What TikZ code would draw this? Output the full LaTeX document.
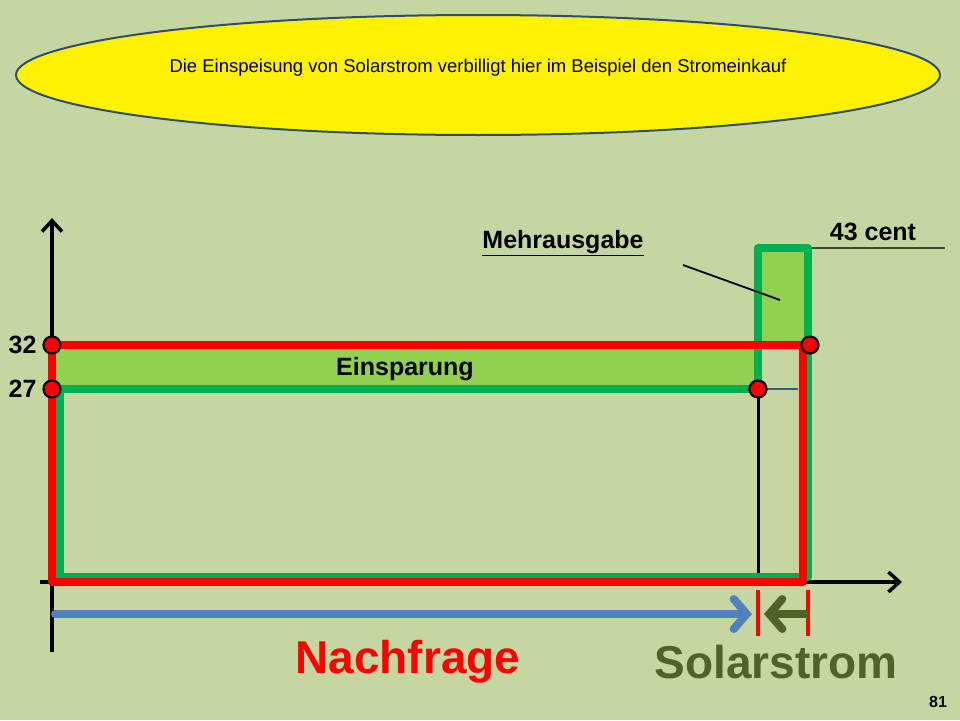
\documentclass[tikz,border=0pt]{standalone}
\usepackage{fontspec}
\setmainfont{Liberation Sans}
\usetikzlibrary{arrows.meta,shapes.geometric}
\definecolor{bg}{HTML}{C5D6A0}
\definecolor{lg}{HTML}{92D050}
\definecolor{gg}{HTML}{00B050}
\definecolor{ol}{HTML}{4F6228}
\definecolor{bl}{HTML}{4F81BD}
\tikzset{redl/.style={red,line width=7.5pt},grl/.style={gg,line width=7.5pt},
dot/.style={circle,fill=red,draw=black,line width=2.2pt,inner sep=0pt,minimum size=17pt},
lbl/.style={font=\bfseries\fontsize{25}{29}\selectfont}}
\begin{document}
\begin{tikzpicture}[x=1pt,y=-1pt]
\fill[bg] (0,0) rectangle (960,720);
\useasboundingbox (0,0) rectangle (960,720);
\node[ellipse,draw=bl!60!black,line width=2pt,fill=yellow,minimum width=924pt,minimum height=120pt] (ell) at (478,75) {};
\node[font=\fontsize{18.5}{21}\selectfont] (t) at (478,68) {Die Einspeisung von Solarstrom verbilligt hier im Beispiel den Stromeinkauf};
\fill[lg] (52,345) rectangle (758,389);
\fill[lg] (758,248) rectangle (808,345);
\coordinate (yb) at (52,652); \coordinate (yt) at (52,218);
\coordinate (xl) at (40,582); \coordinate (xr) at (902,582);
\draw[line width=3.5pt,-{Straight Barb[length=11pt,width=20pt]}] (yb)--(yt);
\draw[line width=3.5pt,-{Straight Barb[length=11pt,width=20pt]}] (xl)--(xr);
\draw[black,line width=3pt] (758,389)--(758,575);
\draw[bl!70!black,line width=2.5pt] (758,389)--(798,389);
\draw[grl,line join=round] (52,389)--(758,389)--(758,248)--(808,248)--(808,577)--(60,577)--(60,389);
\draw[redl,line join=round] (52,345) rectangle (803,582);
\node[dot] (d1) at (52,345) {};
\node[dot] (d2) at (52,389) {};
\node[dot] (d3) at (758,389) {};
\node[dot] (d4) at (810,345) {};
\node[lbl,anchor=east] (l32) at (40,345) {32};
\node[lbl,anchor=east] (l27) at (40,389) {27};
\node[lbl] (ein) at (405,369) {Einsparung};
\node[lbl] (mehr) at (563,243) {\underline{Mehrausgabe}};
\coordinate (m1) at (683,265); \coordinate (m2) at (780,300);
\draw[line width=1.8pt] (m1)--(m2);
\node[lbl] (c43) at (873,232) {43 cent};
\coordinate (c1) at (812,248); \coordinate (c2) at (945,248);
\draw[ol!80!black,line width=1.5pt] (c1)--(c2);
\draw[red,line width=3.5pt] (758,590)--(758,636) (808,590)--(808,636);
\coordinate (a1) at (55,614); \coordinate (a2) at (752,614);
\draw[bl,line width=8pt,line cap=round,-{Straight Barb[length=13pt,width=30pt,line cap=round]}] (a1)--(a2);
\coordinate (b1) at (808,614); \coordinate (b2) at (764,614);
\draw[ol,line width=8pt,-{Straight Barb[length=13pt,width=30pt,line cap=round]}] (b1)--(b2);
\node[font=\bfseries\fontsize{46}{52}\selectfont,text=red] (nf) at (408,662) {Nachfrage};
\node[font=\bfseries\fontsize{46}{52}\selectfont,text=ol] (ss) at (776,662) {Solarstrom};
\node[font=\bfseries\fontsize{16}{18}\selectfont] (pg) at (938,702) {81};
\end{tikzpicture}
\end{document}
